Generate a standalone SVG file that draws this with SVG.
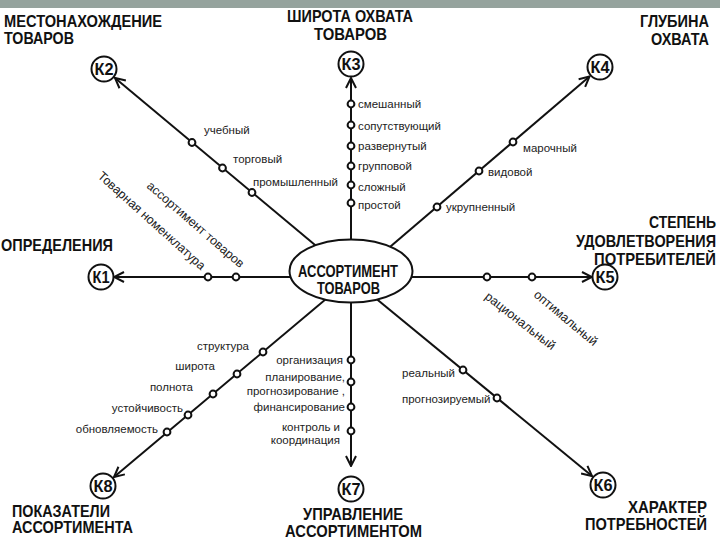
<svg xmlns="http://www.w3.org/2000/svg" width="720" height="540" viewBox="0 0 720 540">
<defs>
<style>
.t{font-family:"Liberation Sans Narrow","Liberation Sans",Arial,sans-serif;font-weight:bold;font-size:16.5px;fill:#111}
.k{font-family:"Liberation Sans Narrow","Liberation Sans",Arial,sans-serif;font-weight:bold;font-size:16px;fill:#111;text-anchor:middle}
.s{font-family:"Liberation Sans",Arial,sans-serif;font-size:11.5px;fill:#222}
.r{font-family:"Liberation Sans",Arial,sans-serif;font-size:12.5px;fill:#222}
.e{text-anchor:end}
.ln{stroke:#111;stroke-width:2;fill:none}
.dot{fill:#fff;stroke:#111;stroke-width:2}
.kc{fill:#fff;stroke:#111;stroke-width:2}
</style>
<marker id="arr" viewBox="0 0 12 12" refX="11" refY="6" markerWidth="12" markerHeight="12" markerUnits="userSpaceOnUse" orient="auto">
<path d="M1,1 L11,6 L1,11" fill="none" stroke="#111" stroke-width="2"/>
</marker>
</defs>
<rect x="0" y="0" width="720" height="540" fill="#fff"/>
<rect x="0" y="0" width="720" height="8" fill="#95a39d"/>

<g id="connectors">
<line class="ln" x1="351" y1="277" x2="114" y2="277" marker-end="url(#arr)"/>
<line class="ln" x1="351" y1="275" x2="115" y2="78" marker-end="url(#arr)"/>
<line class="ln" x1="351" y1="271" x2="351" y2="78" marker-end="url(#arr)"/>
<line class="ln" x1="370" y1="264" x2="589.5" y2="76.5" marker-end="url(#arr)"/>
<line class="ln" x1="351" y1="277" x2="592" y2="277" marker-end="url(#arr)"/>
<line class="ln" x1="351" y1="278" x2="592" y2="476" marker-end="url(#arr)"/>
<line class="ln" x1="351" y1="271" x2="351" y2="466" marker-end="url(#arr)"/>
<line class="ln" x1="351" y1="278" x2="114" y2="477" marker-end="url(#arr)"/>
</g>

<g id="dots">
<circle class="dot" cx="208" cy="277" r="3.4"/>
<circle class="dot" cx="236" cy="277" r="3.4"/>
<circle class="dot" cx="192" cy="142.5" r="3.4"/>
<circle class="dot" cx="222.5" cy="168" r="3.4"/>
<circle class="dot" cx="252" cy="192.5" r="3.4"/>
<circle class="dot" cx="351" cy="104" r="3.4"/>
<circle class="dot" cx="351" cy="125" r="3.4"/>
<circle class="dot" cx="351" cy="146" r="3.4"/>
<circle class="dot" cx="351" cy="166" r="3.4"/>
<circle class="dot" cx="351" cy="185" r="3.4"/>
<circle class="dot" cx="351" cy="203" r="3.4"/>
<circle class="dot" cx="513" cy="142" r="3.4"/>
<circle class="dot" cx="479" cy="171" r="3.4"/>
<circle class="dot" cx="437" cy="207" r="3.4"/>
<circle class="dot" cx="487" cy="277" r="3.4"/>
<circle class="dot" cx="532" cy="277" r="3.4"/>
<circle class="dot" cx="463" cy="370" r="3.4"/>
<circle class="dot" cx="497" cy="398" r="3.4"/>
<circle class="dot" cx="351" cy="360" r="3.4"/>
<circle class="dot" cx="351" cy="382" r="3.4"/>
<circle class="dot" cx="351" cy="407" r="3.4"/>
<circle class="dot" cx="351" cy="431" r="3.4"/>
<circle class="dot" cx="263" cy="352" r="3.4"/>
<circle class="dot" cx="237" cy="374" r="3.4"/>
<circle class="dot" cx="213" cy="394" r="3.4"/>
<circle class="dot" cx="188" cy="415" r="3.4"/>
<circle class="dot" cx="167" cy="432" r="3.4"/>
</g>

<g id="center">
<ellipse cx="351" cy="271" rx="61.5" ry="31.5" fill="#fff" stroke="#111" stroke-width="2"/>
<text class="t" x="298" y="277" textLength="100" lengthAdjust="spacingAndGlyphs" style="font-size:17px">АССОРТИМЕНТ</text>
<text class="t" x="317" y="294" textLength="63" lengthAdjust="spacingAndGlyphs" style="font-size:17px">ТОВАРОВ</text>
</g>

<g id="k1">
<circle class="kc" cx="101" cy="277" r="12.5"/>
<text class="k" x="101" y="282.5" textLength="17" lengthAdjust="spacingAndGlyphs">К1</text>
<text class="t" x="1" y="251" textLength="112" lengthAdjust="spacingAndGlyphs">ОПРЕДЕЛЕНИЯ</text>
<text class="r" transform="translate(97,177) rotate(42)">Товарная номенклатура</text>
<text class="r" transform="translate(146,187) rotate(41)">ассортимент товаров</text>
</g>

<g id="k2">
<circle class="kc" cx="104" cy="69" r="12.5"/>
<text class="k" x="104" y="74.5" textLength="19" lengthAdjust="spacingAndGlyphs">К2</text>
<text class="t" x="4" y="27" textLength="158" lengthAdjust="spacingAndGlyphs">МЕСТОНАХОЖДЕНИЕ</text>
<text class="t" x="4" y="44" textLength="70" lengthAdjust="spacingAndGlyphs">ТОВАРОВ</text>
<text class="s" x="204" y="134">учебный</text>
<text class="s" x="233" y="163">торговый</text>
<text class="s" x="253" y="186">промышленный</text>
</g>

<g id="k3">
<circle class="kc" cx="351" cy="64" r="12.5"/>
<text class="k" x="351" y="69.5" textLength="19" lengthAdjust="spacingAndGlyphs">К3</text>
<text class="t" x="287" y="22" textLength="126" lengthAdjust="spacingAndGlyphs">ШИРОТА ОХВАТА</text>
<text class="t" x="314" y="40" textLength="73" lengthAdjust="spacingAndGlyphs">ТОВАРОВ</text>
<text class="s" x="358" y="108">смешанный</text>
<text class="s" x="358" y="130">сопутствующий</text>
<text class="s" x="358" y="150">развернутый</text>
<text class="s" x="358" y="170">групповой</text>
<text class="s" x="358" y="191">сложный</text>
<text class="s" x="358" y="209">простой</text>
</g>

<g id="k4">
<circle class="kc" cx="600" cy="67" r="12.5"/>
<text class="k" x="600" y="72.5" textLength="19" lengthAdjust="spacingAndGlyphs">К4</text>
<text class="t" x="640" y="27" textLength="69" lengthAdjust="spacingAndGlyphs">ГЛУБИНА</text>
<text class="t" x="651" y="45" textLength="58" lengthAdjust="spacingAndGlyphs">ОХВАТА</text>
<text class="s" x="523" y="152">марочный</text>
<text class="s" x="488" y="176">видовой</text>
<text class="s" x="446" y="211">укрупненный</text>
</g>

<g id="k5">
<circle class="kc" cx="605" cy="277" r="12.5"/>
<text class="k" x="605" y="282.5" textLength="19" lengthAdjust="spacingAndGlyphs">К5</text>
<text class="t" x="649" y="228" textLength="67" lengthAdjust="spacingAndGlyphs">СТЕПЕНЬ</text>
<text class="t" x="576" y="247" textLength="140" lengthAdjust="spacingAndGlyphs">УДОВЛЕТВОРЕНИЯ</text>
<text class="t" x="594" y="265" textLength="122" lengthAdjust="spacingAndGlyphs">ПОТРЕБИТЕЛЕЙ</text>
<text class="r" transform="translate(484,298) rotate(38)">рациональный</text>
<text class="r" transform="translate(533,296) rotate(40)">оптимальный</text>
</g>

<g id="k6">
<circle class="kc" cx="603" cy="485" r="12.5"/>
<text class="k" x="603" y="490.5" textLength="19" lengthAdjust="spacingAndGlyphs">К6</text>
<text class="t" x="628" y="513" textLength="79" lengthAdjust="spacingAndGlyphs">ХАРАКТЕР</text>
<text class="t" x="585" y="530" textLength="122" lengthAdjust="spacingAndGlyphs">ПОТРЕБНОСТЕЙ</text>
<text class="s" x="402" y="377">реальный</text>
<text class="s" x="402" y="403">прогнозируемый</text>
</g>

<g id="k7">
<circle class="kc" cx="351" cy="489" r="12.5"/>
<text class="k" x="351" y="494.5" textLength="19" lengthAdjust="spacingAndGlyphs">К7</text>
<text class="t" x="303" y="520" textLength="100" lengthAdjust="spacingAndGlyphs">УПРАВЛЕНИЕ</text>
<text class="t" x="285" y="537" textLength="137" lengthAdjust="spacingAndGlyphs">АССОРТИМЕНТОМ</text>
<text class="s e" x="343" y="364">организация</text>
<text class="s e" x="345" y="381">планирование,</text>
<text class="s e" x="345" y="395">прогнозирование ,</text>
<text class="s e" x="345" y="411">финансирование</text>
<text class="s e" x="340" y="431">контроль и</text>
<text class="s e" x="340" y="444">координация</text>
</g>

<g id="k8">
<circle class="kc" cx="103" cy="486" r="12.5"/>
<text class="k" x="103" y="491.5" textLength="19" lengthAdjust="spacingAndGlyphs">К8</text>
<text class="t" x="12" y="517" textLength="98" lengthAdjust="spacingAndGlyphs">ПОКАЗАТЕЛИ</text>
<text class="t" x="12" y="533" textLength="121" lengthAdjust="spacingAndGlyphs">АССОРТИМЕНТА</text>
<text class="s e" x="249" y="350">структура</text>
<text class="s e" x="215" y="370">широта</text>
<text class="s e" x="193" y="391">полнота</text>
<text class="s e" x="183" y="412">устойчивость</text>
<text class="s e" x="158" y="433">обновляемость</text>
</g>
</svg>
